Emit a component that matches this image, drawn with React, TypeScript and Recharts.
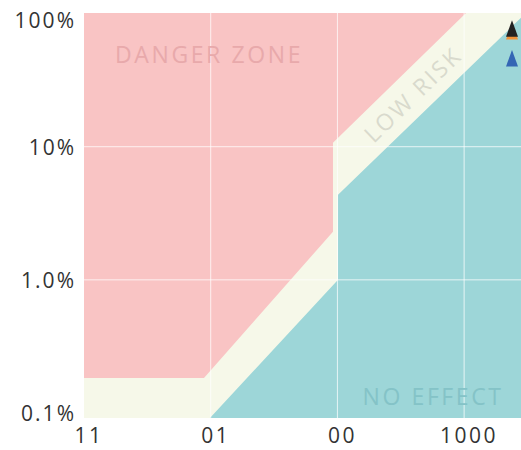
import React from "react";
import {
  ComposedChart,
  Area,
  Scatter,
  XAxis,
  YAxis,
  CartesianGrid,
  ReferenceLine,
  ReferenceDot,
  Label,
} from "recharts";

// x positions are in axis units (tick i sits at x = i)
const xTicks = [0, 1, 2, 3];
const xTickLabels = ["11", "01", "00", "1000"];
const yTicks = [0.1, 1, 10, 100];
const yTickLabels = ["0.1%", "1.0%", "10%", "100%"];

const X_MIN = 0;
const X_MAX = 3.449;
const Y_MIN = 0.0917;
const Y_MAX = 101;

// upper edge of the low-risk band (bottom of the danger zone)
const dangerX = [0, 0.947, 1.965, 1.965, 3.015];
const dangerY = [0.183, 0.183, 2.3, 10.7, 101];

// lower edge of the low-risk band (top of the no-effect zone)
const noEffectX = [0, 0.994, 2.005, 2.005, 3.449];
const noEffectY = [0.0917, 0.0917, 1.0, 4.36, 93];

// markers at the top right
const markerBlack = [{ x: 3.378, y: 77 }];
const markerOrange = [{ x: 3.378, y: 73.5 }];
const markerBlue = [{ x: 3.378, y: 45.9 }];

const dangerData = dangerX.map((x, i) => ({ x, band: [dangerY[i], Y_MAX] }));
const noEffectData = noEffectX.map((x, i) => ({ x, band: [Y_MIN, noEffectY[i]] }));

const FONT = "'Open Sans', sans-serif";

const Triangle = (color: string) => (props: any) => {
  const { cx, cy } = props;
  return (
    <path
      d={`M${cx},${cy - 8.5} L${cx + 6},${cy + 8} L${cx - 6},${cy + 8} Z`}
      fill={color}
    />
  );
};

const YTick = (props: any) => {
  const { x, y, payload } = props;
  const i = yTicks.indexOf(payload.value);
  const dy = payload.value === 100 ? 6 : 0;
  return (
    <text
      x={x}
      y={y + dy}
      textAnchor="end"
      dominantBaseline="central"
      fill="#333"
      fontSize={21}
      fontFamily={FONT}
      letterSpacing={2}
    >
      {yTickLabels[i]}
    </text>
  );
};

const XTick = (props: any) => {
  const { x, y, payload } = props;
  const i = xTicks.indexOf(payload.value);
  return (
    <text
      x={x + 5}
      y={y + 9}
      textAnchor="middle"
      dominantBaseline="central"
      fill="#333"
      fontSize={21}
      fontFamily={FONT}
      letterSpacing={2.5}
    >
      {xTickLabels[i]}
    </text>
  );
};

export default function App() {
  return (
    <div style={{ position: "absolute", left: 0, top: 0, fontFamily: FONT }}>
      <ComposedChart
        width={521}
        height={450}
        margin={{ top: 13, right: 0, left: 0, bottom: 0 }}
      >
        <CartesianGrid
          fill="#f6f8e9"
          stroke="none"
          horizontal={false}
          vertical={false}
        />
        <XAxis
          type="number"
          dataKey="x"
          domain={[X_MIN, X_MAX]}
          ticks={xTicks}
          allowDataOverflow
          axisLine={false}
          tickLine={false}
          height={32}
          tick={<XTick />}
        />
        <YAxis
          type="number"
          scale="log"
          domain={[Y_MIN, Y_MAX]}
          ticks={yTicks}
          allowDataOverflow
          axisLine={false}
          tickLine={false}
          width={84}
          tick={<YTick />}
        />
        <Area
          data={noEffectData}
          dataKey="band"
          type="linear"
          fill="#9dd6d8"
          fillOpacity={1}
          stroke="none"
          isAnimationActive={false}
        />
        <Area
          data={dangerData}
          dataKey="band"
          type="linear"
          fill="#f9c4c4"
          fillOpacity={1}
          stroke="none"
          isAnimationActive={false}
        />
        {xTicks.slice(1).map((t) => (
          <ReferenceLine key={"vx" + t} x={t} stroke="#ffffff" strokeOpacity={0.75} />
        ))}
        {yTicks.slice(1, 3).map((t) => (
          <ReferenceLine key={"hy" + t} y={t} stroke="#ffffff" strokeOpacity={0.75} />
        ))}
        <ReferenceDot x={0.987} y={49.2} r={0} fill="none" stroke="none">
          <Label
            value="DANGER ZONE"
            position="center"
            fill="#e8a9ab"
            fontSize={23}
            fontFamily={FONT}
            letterSpacing={2.6}
          />
        </ReferenceDot>
        <ReferenceDot x={2.755} y={0.132} r={0} fill="none" stroke="none">
          <Label
            value="NO EFFECT"
            position="center"
            fill="#84c3c7"
            fontSize={23}
            fontFamily={FONT}
            letterSpacing={2.6}
          />
        </ReferenceDot>
        <ReferenceDot x={2.597} y={24.6} r={0} fill="none" stroke="none">
          <Label
            value="LOW RISK"
            position="center"
            angle={-44}
            fill="#d9dacd"
            fontSize={23}
            fontFamily={FONT}
            letterSpacing={2.6}
          />
        </ReferenceDot>
        <Scatter
          data={markerOrange}
          dataKey="y"
          shape={Triangle("#f0923a")}
          isAnimationActive={false}
        />
        <Scatter
          data={markerBlack}
          dataKey="y"
          shape={Triangle("#222222")}
          isAnimationActive={false}
        />
        <Scatter
          data={markerBlue}
          dataKey="y"
          shape={Triangle("#3466b4")}
          isAnimationActive={false}
        />
      </ComposedChart>
    </div>
  );
}
